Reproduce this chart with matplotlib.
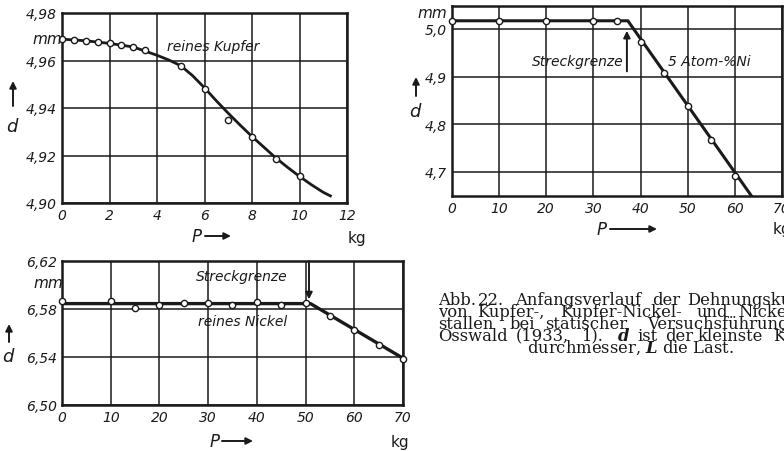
import matplotlib
matplotlib.use("Agg")
import matplotlib.pyplot as plt

W, H = 784, 452
INK = "#1a1a1a"
SANS = ["DejaVu Sans"]
SERIF = "DejaVu Serif"

plt.rcParams["mathtext.fontset"] = "custom"
plt.rcParams["mathtext.it"] = "DejaVu Serif:italic:bold"
plt.rcParams["mathtext.rm"] = "DejaVu Serif"

# --- pure copper -------------------------------------------------------
cu_load = [0, 0.5, 1.0, 1.5, 2.0, 2.5, 3.0, 3.5, 5, 6, 7, 8, 9, 10]
cu_d = [4.969, 4.9686, 4.9683, 4.968, 4.9672, 4.9665, 4.9655, 4.9644,
        4.9578, 4.948, 4.935, 4.928, 4.9185, 4.9112]
cu_curve_load = [0, 1, 2, 3, 4, 4.5, 5, 5.5, 6, 6.5, 7, 7.5, 8, 8.5, 9,
                 9.5, 10, 10.5, 11, 11.3]
cu_curve_d = [4.969, 4.9683, 4.9672, 4.9657, 4.9622, 4.9602, 4.9578, 4.9536,
              4.9485, 4.943, 4.9378, 4.9328, 4.928, 4.9235, 4.919, 4.915,
              4.9112, 4.9077, 4.9045, 4.903]

# --- copper with 5 atom-% nickel --------------------------------------
ni5_load = [0, 10, 20, 30, 35, 40, 45, 50, 55, 60]
ni5_d = [5.017, 5.017, 5.017, 5.017, 5.017, 4.973, 4.907, 4.838, 4.766, 4.691]
ni5_line_load = [0, 37.3, 63.5]
ni5_line_d = [5.017, 5.017, 4.65]

# --- pure nickel -------------------------------------------------------
ni_load = [0, 10, 15, 20, 25, 30, 35, 40, 45, 50, 55, 60, 65, 70]
ni_d = [6.5863, 6.5863, 6.5808, 6.5836, 6.585, 6.5847, 6.5836, 6.5855,
        6.5836, 6.5847, 6.5745, 6.5629, 6.5497, 6.5386]
ni_line_load = [0, 51, 70]
ni_line_d = [6.5845, 6.5845, 6.539]

cu_xticks = [0, 2, 4, 6, 8, 10, 12]
cu_yticks = [4.90, 4.92, 4.94, 4.96, 4.98]
cu_ylabels = ["4,90", "4,92", "4,94", "4,96", "4,98"]
ni5_xticks = [0, 10, 20, 30, 40, 50, 60, 70]
ni5_yticks = [4.7, 4.8, 4.9, 5.0]
ni5_ylabels = ["4,7", "4,8", "4,9", "5,0"]
ni_xticks = [0, 10, 20, 30, 40, 50, 60, 70]
ni_yticks = [6.50, 6.54, 6.58, 6.62]
ni_ylabels = ["6,50", "6,54", "6,58", "6,62"]

# caption words per printed line
caption_lines = [
    ["Abb.", "22.", "Anfangsverlauf", "der", "Dehnungskurven"],
    ["von", "Kupfer-,", "Kupfer-Nickel-", "und", "Nickelkri-"],
    ["stallen", "bei", "statischer", "Versuchsführung."],
    ["Osswald", "(1933,", "1).", "$d$", "ist", "der", "kleinste", "Kristall-"],
]
caption_last = "durchmesser, $L$ die Last."

fig = plt.figure(figsize=(W / 100, H / 100), dpi=100)
fig.patch.set_facecolor("white")


def fx(x, y):
    return (x / W, 1 - y / H)


def add_panel(left, top, right, bottom):
    ax = fig.add_axes([left / W, 1 - bottom / H, (right - left) / W, (bottom - top) / H])
    for s in ax.spines.values():
        s.set_linewidth(1.8)
        s.set_color(INK)
    ax.tick_params(length=0, pad=3.5, colors=INK)
    ax.grid(True, color=INK, linewidth=1.1)
    ax.set_axisbelow(True)
    return ax


def style_ticks(ax):
    for lab in ax.get_xticklabels() + ax.get_yticklabels():
        lab.set_fontstyle("italic")
        lab.set_family(SANS)
        lab.set_fontsize(10)


arrow_kw = dict(arrowstyle="-|>", color=INK, lw=1.4, mutation_scale=10,
                shrinkA=0, shrinkB=0)


def axis_decor(mm_xy, d_xy, arrow_y, p_xy, arrow_x, kg_xy, kg_ha="center"):
    fig.text(*fx(*mm_xy), "mm", ha="center", va="center", family=SANS,
             style="italic", fontsize=11, color=INK)
    fig.text(*fx(*d_xy), "d", ha="center", va="center", family=SANS,
             style="italic", fontsize=13, color=INK)
    fig.add_artist(plt.Annotation(
        "", xy=fx(d_xy[0] + 1, arrow_y[1]), xytext=fx(d_xy[0] + 1, arrow_y[0]),
        xycoords="figure fraction", textcoords="figure fraction",
        arrowprops=arrow_kw))
    fig.text(*fx(*p_xy), "P", ha="center", va="center", family=SANS,
             style="italic", fontsize=12, color=INK)
    fig.add_artist(plt.Annotation(
        "", xy=fx(arrow_x[1], p_xy[1]), xytext=fx(arrow_x[0], p_xy[1]),
        xycoords="figure fraction", textcoords="figure fraction",
        arrowprops=arrow_kw))
    fig.text(*fx(*kg_xy), "kg", ha=kg_ha, va="center", family=SANS,
             fontsize=11, color=INK)


mk = dict(marker="o", markersize=4.5, markerfacecolor="white",
          markeredgecolor=INK, markeredgewidth=1.0, linestyle="none", zorder=4)
lab_kw = dict(va="center", family=SANS, style="italic", fontsize=10, color=INK)

# Panel 1: pure copper
ax1 = add_panel(62, 14, 347, 204)
ax1.set_xlim(0, 12)
ax1.set_ylim(4.90, 4.98)
ax1.set_xticks(cu_xticks)
ax1.set_yticks(cu_yticks, cu_ylabels)
ax1.plot(cu_curve_load, cu_curve_d, color=INK, lw=2.0, zorder=3, clip_on=False)
ax1.plot(cu_load, cu_d, clip_on=False, **mk)
ax1.text(4.42, 4.9663, "reines Kupfer", ha="left", **lab_kw)
style_ticks(ax1)
axis_decor((47, 39), (12, 127), (107, 82), (197, 237), (205, 231), (357, 238))

# Panel 2: copper + 5 atom-% nickel
ax2 = add_panel(452, 7, 782, 197)
ax2.set_xlim(0, 70)
ax2.set_ylim(4.6495, 5.048)
ax2.set_xticks(ni5_xticks)
ax2.set_yticks(ni5_yticks, ni5_ylabels)
ax2.plot(ni5_line_load, ni5_line_d, color=INK, lw=2.2, zorder=3)
ax2.plot(ni5_load, ni5_d, clip_on=False, **mk)
ax2.text(36.3, 4.933, "Streckgrenze", ha="right", **lab_kw)
ax2.text(45.8, 4.933, "5 Atom-%Ni", ha="left", **lab_kw)
ax2.annotate("", xy=(37.1, 4.996), xytext=(37.1, 4.911), arrowprops=arrow_kw)
style_ticks(ax2)
axis_decor((432, 13), (415, 112), (97, 78), (602, 230), (610, 657), (773, 230),
           kg_ha="left")

# Panel 3: pure nickel
ax3 = add_panel(62, 262, 403, 406)
ax3.set_xlim(0, 70)
ax3.set_ylim(6.50, 6.62)
ax3.set_xticks(ni_xticks)
ax3.set_yticks(ni_yticks, ni_ylabels)
ax3.plot(ni_line_load, ni_line_d, color=INK, lw=2.4, zorder=3)
ax3.plot(ni_load, ni_d, clip_on=False, **mk)
ax3.text(46.4, 6.6075, "Streckgrenze", ha="right", **lab_kw)
ax3.text(46.2, 6.570, "reines Nickel", ha="right", **lab_kw)
ax3.annotate("", xy=(50.7, 6.588), xytext=(50.7, 6.62), arrowprops=arrow_kw)
style_ticks(ax3)
axis_decor((48, 283), (8, 357), (343, 325), (215, 442), (222, 253), (400, 443))

# Caption, typeset word by word on a justified column
word_x = [
    [438, 478, 515, 652, 687],
    [438, 477, 560, 697, 738],
    [438, 510, 545, 647],
    [438, 516, 581, 617, 637, 665, 698, 773],
]
baselines = [305.0, 316.8, 328.7, 340.6]
cap_kw = dict(ha="left", va="baseline", family=SERIF, fontsize=11.8, color=INK)
for words, xs, base in zip(caption_lines, word_x, baselines):
    for w, x in zip(words, xs):
        fig.text(*fx(x, base), w, **cap_kw)
fig.text(*fx(631, 352.6), caption_last, **dict(cap_kw, ha="center"))

fig.savefig("out.png", dpi=100, facecolor="white")
